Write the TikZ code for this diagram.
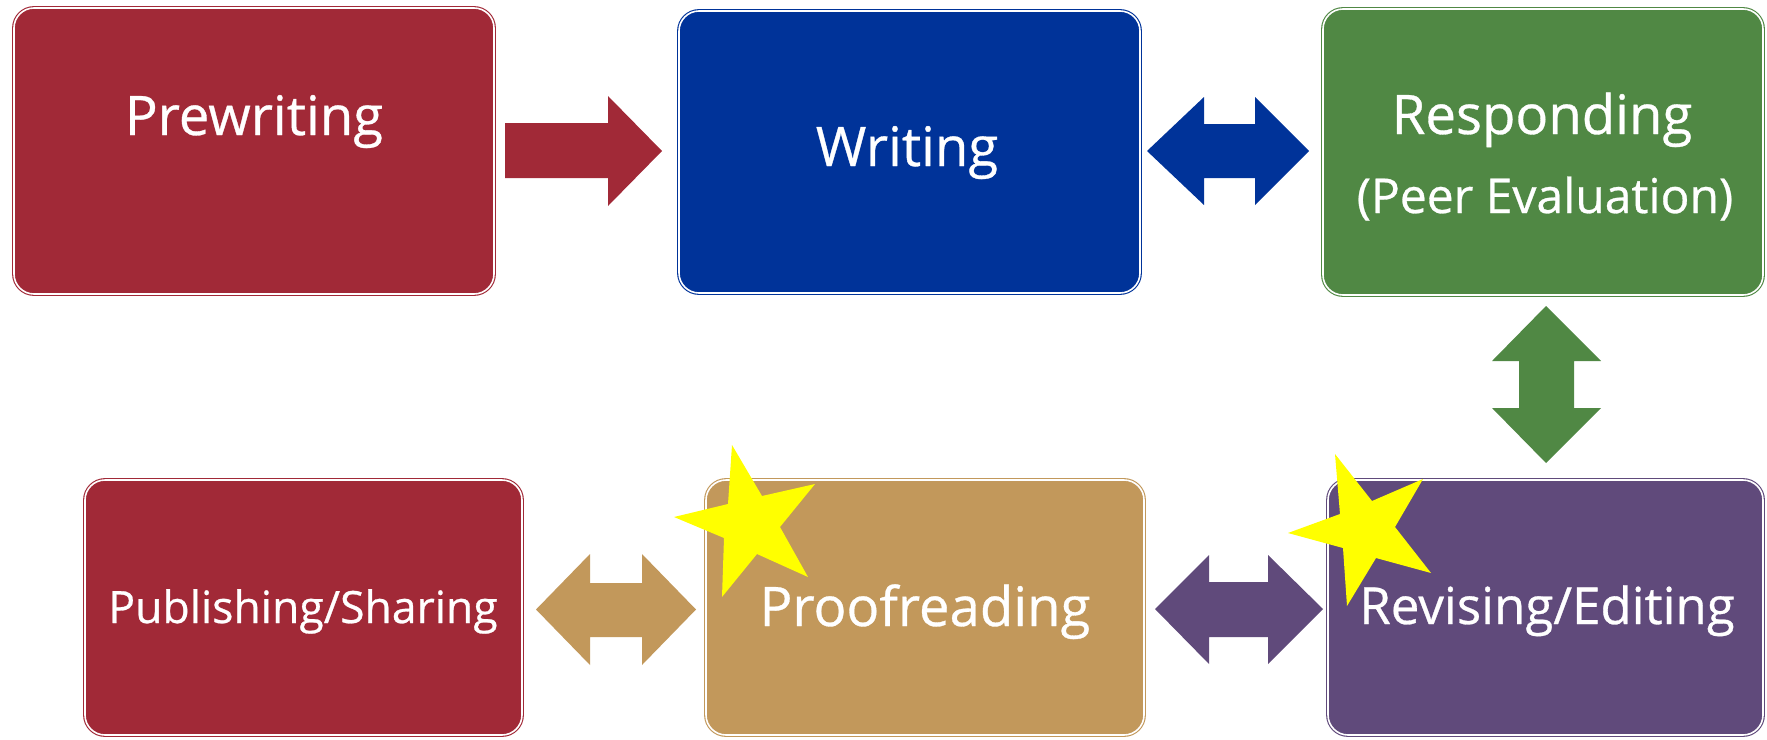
\documentclass[tikz,border=0pt]{standalone}
\usepackage{fontspec}
\setmainfont{Open Sans}
\newfontface\lblfont{Open Sans}[FakeBold=0.6]
\definecolor{cred}{HTML}{A12937}
\definecolor{cblue}{HTML}{003399}
\definecolor{cgreen}{HTML}{508844}
\definecolor{ctan}{HTML}{C2985B}
\definecolor{cpurple}{HTML}{604A7B}
\definecolor{cstar}{HTML}{FFFF00}
\tikzset{
  stagebox/.style={rectangle, rounded corners=20pt, draw=#1, fill=#1, double=white,
    double distance=1.6pt, line width=1.1pt, outer sep=0pt, inner sep=0pt},
  lbl/.style={text=white, anchor=base, inner sep=0pt},
  blockarrow/.style={fill=#1, draw=none},
  starshape/.style={fill=cstar, draw=none}
}
\begin{document}
\begin{tikzpicture}[x=1pt,y=-1pt]
\useasboundingbox (0,0) rectangle (1767,739);
% boxes
\node[stagebox=cred, minimum width=480pt, minimum height=286pt] (pre) at (254,151) {};
\node[stagebox=cblue, minimum width=461pt, minimum height=282pt] (wri) at (909.5,152) {};
\node[stagebox=cgreen, minimum width=440pt, minimum height=286pt] (resp) at (1543,152) {};
\node[stagebox=cred, minimum width=437pt, minimum height=255pt] (pub) at (303.5,607.5) {};
\node[stagebox=ctan, minimum width=438pt, minimum height=255pt] (proof) at (925,607.5) {};
\node[stagebox=cpurple, minimum width=435pt, minimum height=255pt] (rev) at (1545.5,607.5) {};
% labels
\node[lbl, font=\lblfont\fontsize{54.5}{60}\selectfont] (preT) at (254,135) {Prewriting};
\node[lbl, font=\lblfont\fontsize{54.5}{60}\selectfont] (wriT) at (907,166) {Writing};
\node[lbl, font=\lblfont\fontsize{54.5}{60}\selectfont] (respT) at (1542,134) {Responding};
\node[lbl, font=\lblfont\fontsize{48}{54}\selectfont] (respT2) at (1545,213) {(Peer Evaluation)};
\node[lbl, font=\lblfont\fontsize{44.5}{52}\selectfont] (pubT) at (303,623) {Publishing/Sharing};
\node[lbl, font=\lblfont\fontsize{54.5}{62}\selectfont] (proofT) at (925,626) {Proofreading};
\node[lbl, font=\lblfont\fontsize{51}{56}\selectfont] (revT) at (1547,624) {Revising/Editing};
% block arrows
\fill[blockarrow=cred] (505,123) -- (608,123) -- (608,96) -- (662,151) -- (608,206) -- (608,178) -- (505,178) -- cycle;
\fill[blockarrow=cblue] (1147,151) -- (1204,97) -- (1204,124) -- (1255,124) -- (1255,97) -- (1309,151)
  -- (1255,205) -- (1255,178) -- (1204,178) -- (1204,205) -- cycle;
\fill[blockarrow=cgreen] (1546,306) -- (1601,361) -- (1574,361) -- (1574,408) -- (1601,408) -- (1546,463)
  -- (1492,408) -- (1519,408) -- (1519,361) -- (1492,361) -- cycle;
\fill[blockarrow=ctan] (536,609.5) -- (590,554) -- (590,583) -- (642,583) -- (642,554) -- (696,609.5)
  -- (642,665) -- (642,637) -- (590,637) -- (590,665) -- cycle;
\fill[blockarrow=cpurple] (1155,609) -- (1209,555) -- (1209,582) -- (1268,582) -- (1268,555) -- (1323,609)
  -- (1268,664) -- (1268,637) -- (1209,637) -- (1209,664) -- cycle;
% stars
\fill[starshape] (732,445) -- (762,496) -- (815,484) -- (780,527) -- (808,577) -- (757,554)
  -- (722,597) -- (724,538) -- (674,517) -- (728,504) -- cycle;
\fill[starshape] (1335,454) -- (1372,501) -- (1423,479) -- (1395,527) -- (1431,573) -- (1376,558)
  -- (1347,606) -- (1343,548) -- (1288,533) -- (1340,514) -- cycle;
\end{tikzpicture}
\end{document}
